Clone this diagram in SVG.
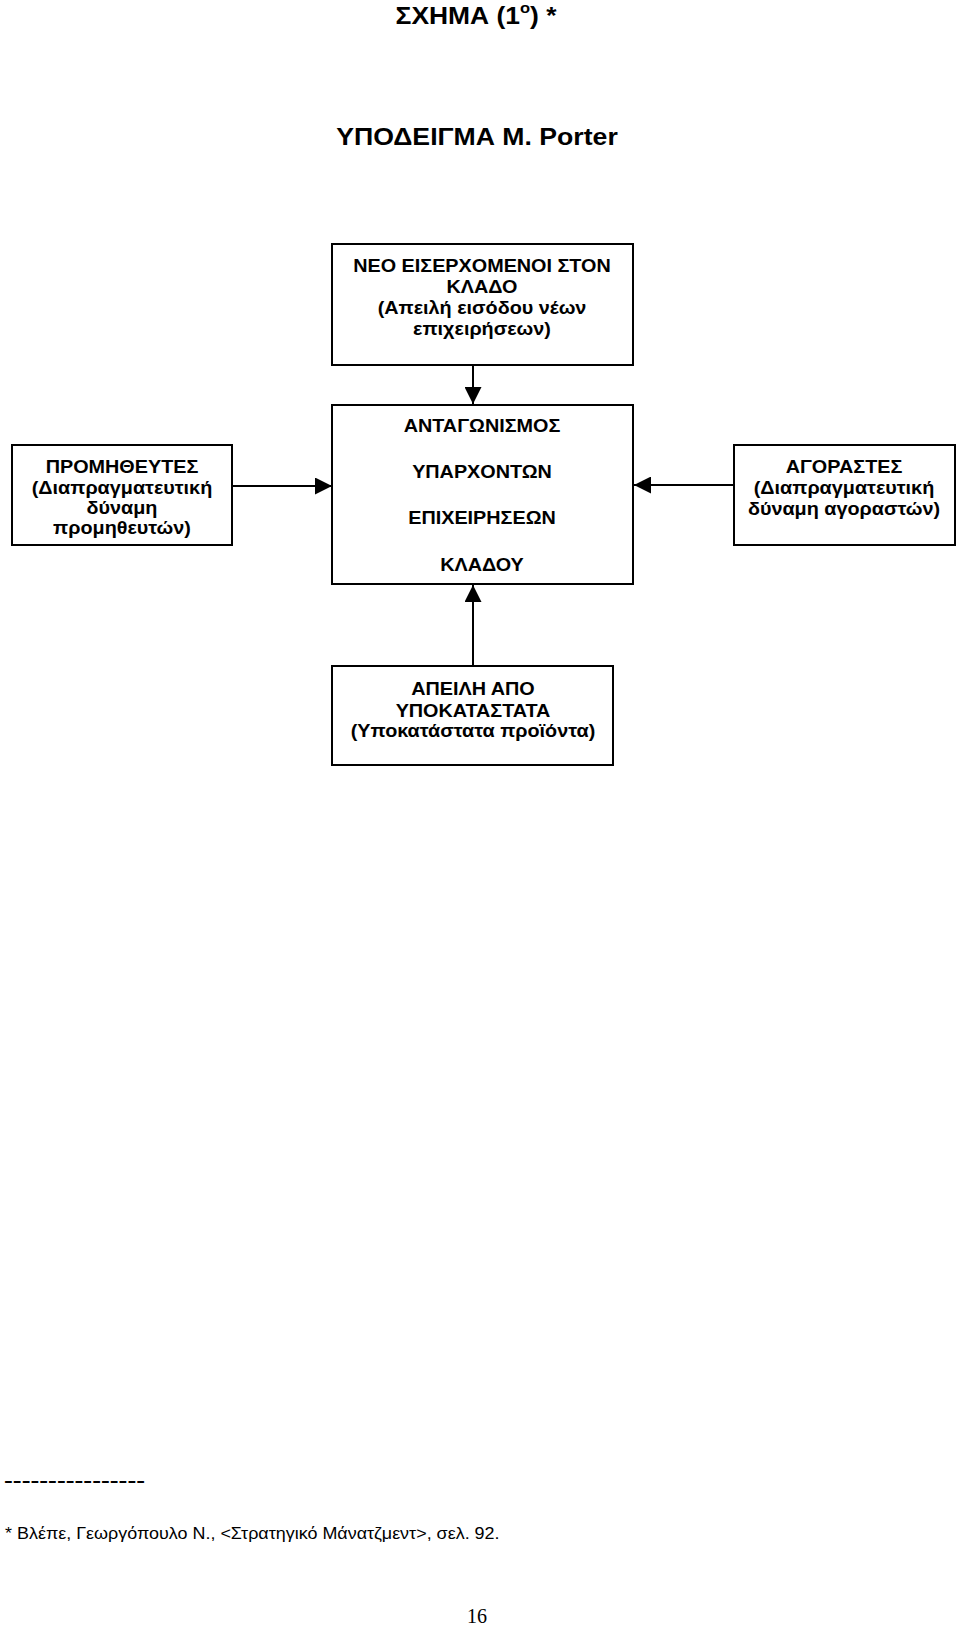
<svg xmlns="http://www.w3.org/2000/svg" width="960" height="1633" viewBox="0 0 960 1633">
<style>
  .bg{fill:#fff}
  .box{fill:#fff;stroke:#000;stroke-width:2}
  .conn{stroke:#000;stroke-width:2;fill:none}
  .t{font-family:"Liberation Sans",Arial,sans-serif;font-weight:bold;font-size:18px;fill:#000;text-anchor:middle}
  .title{font-family:"Liberation Sans",Arial,sans-serif;font-weight:bold;font-size:24px;fill:#000;text-anchor:middle}
  .foot{font-family:"Liberation Sans",Arial,sans-serif;font-size:17px;fill:#000}
  .pg{font-family:"Liberation Serif","Times New Roman",serif;font-size:20px;fill:#000;text-anchor:middle}
</style>
<defs>
  <marker id="arr" markerUnits="userSpaceOnUse" markerWidth="17" markerHeight="17" refX="17" refY="8.5" orient="auto">
    <path d="M0,0 L17,8.5 L0,17 z" fill="#000"/>
  </marker>
</defs>
<rect class="bg" x="0" y="0" width="960" height="1633"/>

<g id="title">
  <text class="title" transform="translate(476 0) scale(1.1 1)" x="0" y="24">ΣΧΗΜΑ (1<tspan font-size="15" dy="-11">ο</tspan><tspan dy="11">) *</tspan></text>
  <text class="title" transform="translate(477 0) scale(1.11 1)" x="0" y="145">ΥΠΟΔΕΙΓΜΑ Μ. Porter</text>
</g>

<g id="connectors">
  <line class="conn" x1="473" y1="365" x2="473" y2="404" marker-end="url(#arr)"/>
  <line class="conn" x1="232" y1="486" x2="332" y2="486" marker-end="url(#arr)"/>
  <line class="conn" x1="734" y1="485" x2="634" y2="485" marker-end="url(#arr)"/>
  <line class="conn" x1="473" y1="666" x2="473" y2="585" marker-end="url(#arr)"/>
</g>

<g id="new-entrants">
  <rect class="box" x="332" y="244" width="301" height="121"/>
  <text class="t" transform="translate(482 0) scale(1.1 1)" x="0" y="272">ΝΕΟ ΕΙΣΕΡΧΟΜΕΝΟΙ ΣΤΟΝ</text>
  <text class="t" transform="translate(482 0) scale(1.1 1)" x="0" y="293">ΚΛΑΔΟ</text>
  <text class="t" transform="translate(482 0) scale(1.1 1)" x="0" y="314">(Απειλή εισόδου νέων</text>
  <text class="t" transform="translate(482 0) scale(1.1 1)" x="0" y="335">επιχειρήσεων)</text>
</g>

<g id="rivalry">
  <rect class="box" x="332" y="405" width="301" height="179"/>
  <text class="t" transform="translate(482 0) scale(1.1 1)" x="0" y="432">ΑΝΤΑΓΩΝΙΣΜΟΣ</text>
  <text class="t" transform="translate(482 0) scale(1.1 1)" x="0" y="478">ΥΠΑΡΧΟΝΤΩΝ</text>
  <text class="t" transform="translate(482 0) scale(1.1 1)" x="0" y="524">ΕΠΙΧΕΙΡΗΣΕΩΝ</text>
  <text class="t" transform="translate(482 0) scale(1.1 1)" x="0" y="571">ΚΛΑΔΟΥ</text>
</g>

<g id="suppliers">
  <rect class="box" x="12" y="445" width="220" height="100"/>
  <text class="t" transform="translate(122 0) scale(1.1 1)" x="0" y="473">ΠΡΟΜΗΘΕΥΤΕΣ</text>
  <text class="t" transform="translate(122 0) scale(1.1 1)" x="0" y="494">(Διαπραγματευτική</text>
  <text class="t" transform="translate(122 0) scale(1.1 1)" x="0" y="514">δύναμη</text>
  <text class="t" transform="translate(122 0) scale(1.1 1)" x="0" y="534">προμηθευτών)</text>
</g>

<g id="buyers">
  <rect class="box" x="734" y="445" width="221" height="100"/>
  <text class="t" transform="translate(844 0) scale(1.1 1)" x="0" y="473">ΑΓΟΡΑΣΤΕΣ</text>
  <text class="t" transform="translate(844 0) scale(1.1 1)" x="0" y="494">(Διαπραγματευτική</text>
  <text class="t" transform="translate(844 0) scale(1.1 1)" x="0" y="515">δύναμη αγοραστών)</text>
</g>

<g id="substitutes">
  <rect class="box" x="332" y="666" width="281" height="99"/>
  <text class="t" transform="translate(473 0) scale(1.1 1)" x="0" y="695">ΑΠΕΙΛΗ ΑΠΟ</text>
  <text class="t" transform="translate(473 0) scale(1.1 1)" x="0" y="717">ΥΠΟΚΑΤΑΣΤΑΤΑ</text>
  <text class="t" transform="translate(473 0) scale(1.1 1)" x="0" y="737">(Υποκατάστατα προϊόντα)</text>
</g>

<g id="footer">
  <text class="foot" font-weight="bold" x="4" y="1486" textLength="141" lengthAdjust="spacingAndGlyphs">----------------</text>
  <text class="foot" transform="translate(5 0) scale(1.055 1)" x="0" y="1539">* Βλέπε, Γεωργόπουλο Ν., &lt;Στρατηγικό Μάνατζμεντ&gt;, σελ. 92.</text>
  <text class="pg" x="477" y="1623">16</text>
</g>
</svg>
